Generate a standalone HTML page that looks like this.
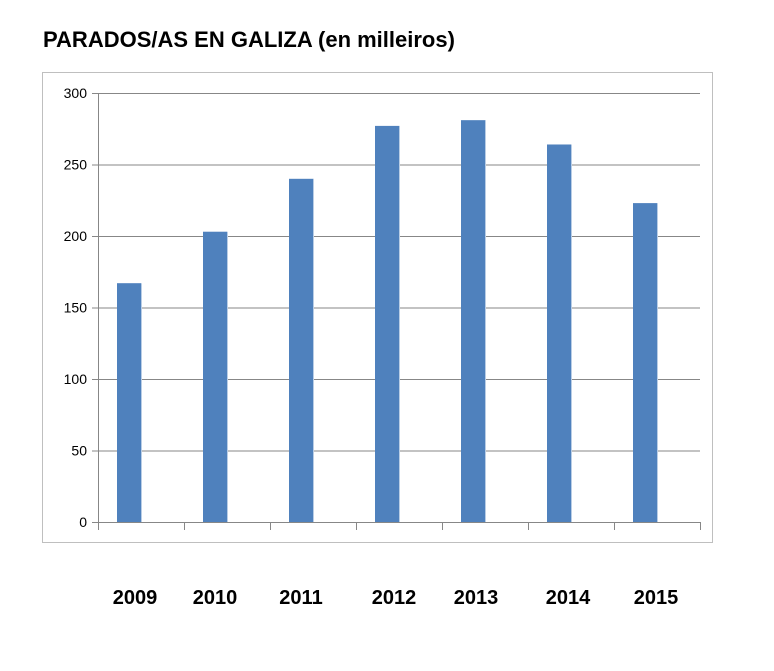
<!DOCTYPE html>
<html><head><meta charset="utf-8"><style>
body{margin:0;background:#fff;width:774px;height:666px;overflow:hidden;font-family:"Liberation Sans",sans-serif}
</style></head><body>
<svg width="774" height="666" xmlns="http://www.w3.org/2000/svg">
<text x="43" y="47" font-family="Liberation Sans, sans-serif" font-size="22" font-weight="bold" fill="#000">PARADOS/AS EN GALIZA (en milleiros)</text>
<rect x="42.5" y="72.5" width="670" height="470" fill="none" stroke="#bfbfbf"/>
<g id="grid"></g><g id="bars"></g><g id="axes"></g><g id="labels"></g>
</svg>
<script>
const categories=["2009","2010","2011","2012","2013","2014","2015"];
const values=[167,203,240,277,281,264,223];
const yTicks=[0,50,100,150,200,250,300];
const NS="http://www.w3.org/2000/svg";
const x0=98,x1=700,y0=522,y1=93,yMax=300;
const cw=(x1-x0)/categories.length;
const y=v=>y0-(v/yMax)*(y0-y1);
const xc=i=>x0+i*cw;
function mk(t,a,p){const e=document.createElementNS(NS,t);for(const k in a)e.setAttribute(k,a[k]);p.appendChild(e);return e;}
const grid=document.getElementById('grid'),bars=document.getElementById('bars'),axes=document.getElementById('axes'),labels=document.getElementById('labels');
yTicks.forEach(t=>{
 const l=mk('line',{x1:x0-6,x2:x1,y1:y(t)+0.5,y2:y(t)+0.5,stroke:'#878787','stroke-width':1},grid);
 
 
 const tx=mk('text',{x:x0-11,y:y(t)+5,'text-anchor':'end','font-size':14,fill:'#000','font-family':'Liberation Sans, sans-serif'},labels);
 tx.textContent=t;
 
 
});
const ax=mk('line',{x1:x0+0.5,x2:x0+0.5,y1:y1,y2:y0+8,stroke:'#878787'},axes);


for(let i=0;i<=categories.length;i++){
 const tk=mk('line',{x1:xc(i)+0.5,x2:xc(i)+0.5,y1:y0,y2:y0+8,stroke:'#878787'},axes);
 
 
}
const labelOffsets=[-6,-12,-12,-5,-9,-3,-1];
categories.forEach((c,i)=>{
 const b=mk('rect',{x:xc(i)+19,y:y(values[i]),width:24,height:y0-y(values[i]),fill:'#4f81bd'},bars);
 
 
 const ed=mk('line',{x1:xc(i)+43.5,x2:xc(i)+43.5,y1:y(values[i]),y2:y0,stroke:'#b9cde5'},bars);
 
 
 const t=mk('text',{x:xc(i)+cw/2+labelOffsets[i],y:604,'text-anchor':'middle','font-size':20,'font-weight':'bold',fill:'#000','font-family':'Liberation Sans, sans-serif'},labels);
 t.textContent=c;
 
 
});
</script>
</body></html>
